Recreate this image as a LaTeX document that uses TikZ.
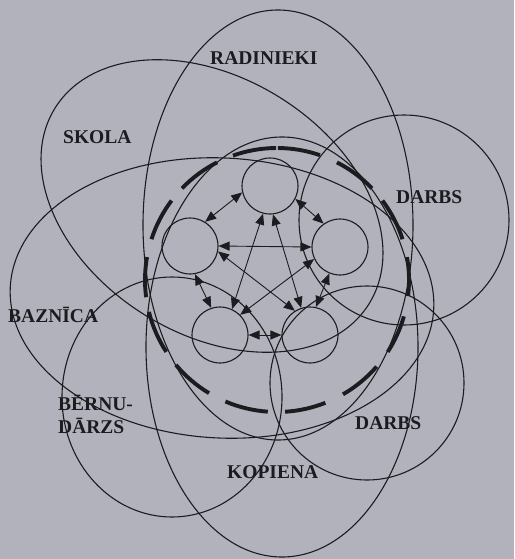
\documentclass[tikz,border=0pt]{standalone}
\usepackage{fontspec}
\setmainfont{Liberation Serif}
\usetikzlibrary{arrows.meta}
\definecolor{paper}{RGB}{177,178,187}
\definecolor{ink}{RGB}{28,28,32}
\begin{document}
\begin{tikzpicture}[x=1pt,y=-1pt,
  ring/.style={draw=ink, line width=1.1pt},
  dashring/.style={draw=ink, line width=3.9pt},
  member/.style={circle, draw=ink, line width=1.1pt, minimum size=56pt, inner sep=0pt},
  link/.style={draw=ink, line width=0.9pt, {Triangle[length=11pt,width=9pt]}-{Triangle[length=11pt,width=9pt]}},
  lab/.style={font=\bfseries\fontsize{19.5}{22}\selectfont, text=ink, inner sep=0pt, anchor=base west}]
\fill[paper] (0,0) rectangle (514,559);
\useasboundingbox (0,0) rectangle (514,559);

% surrounding systems
\draw[ring] (278,225) ellipse [x radius=135pt, y radius=215pt];
\draw[ring] (282,347) ellipse [x radius=136pt, y radius=210pt];
\draw[ring, rotate around={-32:(212,206)}] (212,206) ellipse [x radius=185pt, y radius=128pt];
\draw[ring, rotate around={-3:(222,298)}] (222,298) ellipse [x radius=212pt, y radius=140pt];
\draw[ring] (172,397) ellipse [x radius=110pt, y radius=120pt];
\draw[ring] (404,220) circle [radius=105pt];
\draw[ring] (367,383) circle [radius=97pt];

% family boundary
\begin{scope}[shift={(277,280)}, y=1pt]
\foreach \a/\b in {71/89.6, 90.4/109.5, 117/136, 143/162, 170/187.5, 194/213, 220/239, 247/266, 273.5/291.5, 300/319, 327/344, 353/370, 18/37, 44/63}
  \draw[dashring] (\a:132) arc[start angle=\a, end angle=\b, radius=132];
\end{scope}

% family members
\node[member] (T) at (270,186) {};
\node[member] (L) at (190,246) {};
\node[member] (R) at (340,247) {};
\node[member] (BL) at (220,335) {};
\node[member] (BR) at (310,335) {};

\draw[link] (T.193) -- (L.58);
\draw[link] (T.333) -- (R.125);
\draw[link] (L.0) -- (R.180);
\draw[link] (T.256) -- (BL.65);
\draw[link] (T.276) -- (BR.108);
\draw[link] (L.349) -- (BR.122);
\draw[link] (R.205) -- (BL.45);
\draw[link] (L.280) -- (BL.108);
\draw[link] (R.248) -- (BR.78);
\draw[link] (BL.0) -- (BR.180);

% labels
\node[lab] (radinieki) at (210,65) {RADINIEKI};
\node[lab] (skola) at (63,143) {SKOLA};
\node[lab] (darbsa) at (396,203) {DARBS};
\node[lab] (baznica) at (8,322) {BAZNĪCA};
\node[lab] (bernua) at (58,410) {BĒRNU-};
\node[lab] (bernub) at (58,433) {DĀRZS};
\node[lab] (darbsb) at (355,429) {DARBS};
\node[lab] (kopiena) at (227,478) {KOPIENA};
\end{tikzpicture}
\end{document}
